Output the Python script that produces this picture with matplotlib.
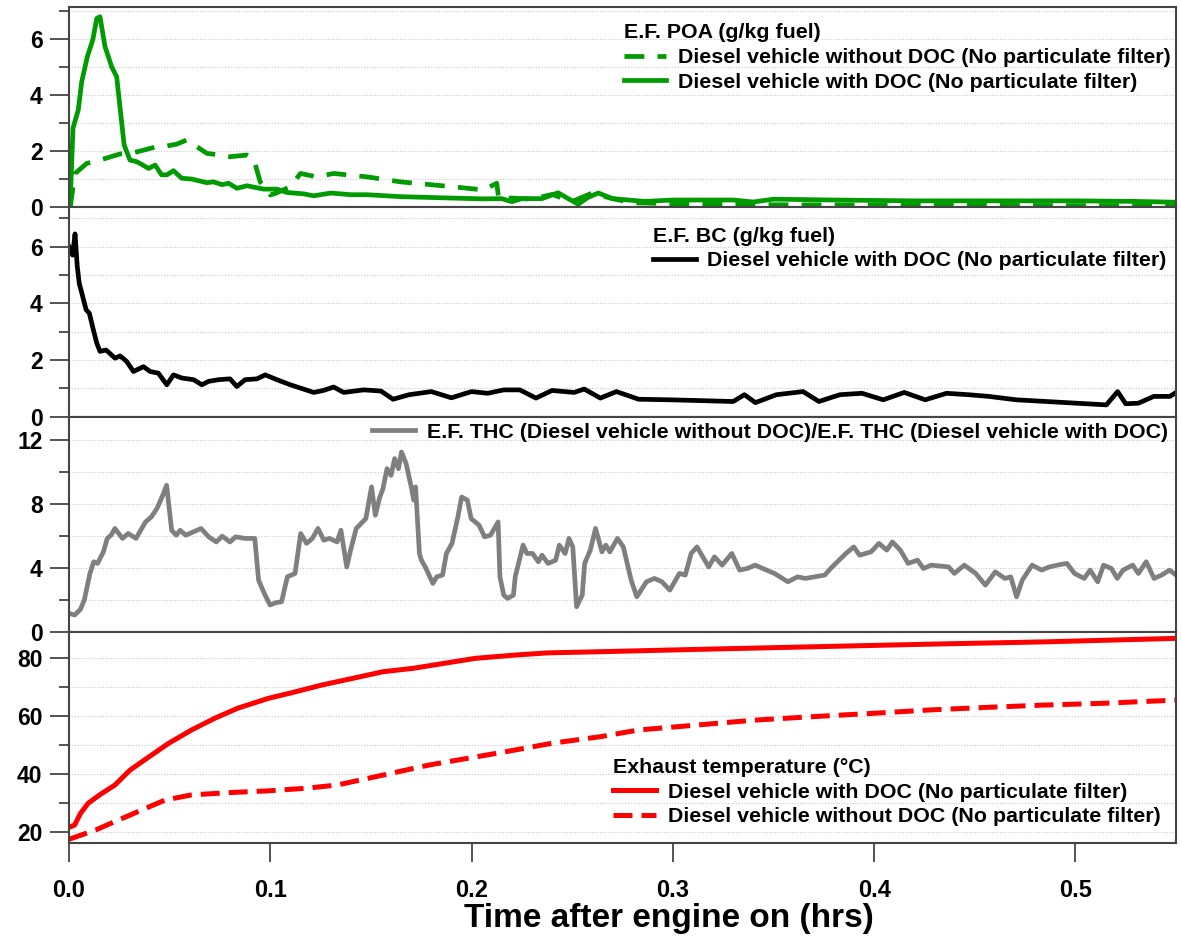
import numpy as np
import matplotlib
matplotlib.use("Agg")
import matplotlib.pyplot as plt
from matplotlib.ticker import MultipleLocator

plt.rcParams['font.family'] = ['Liberation Sans', 'DejaVu Sans']
plt.rcParams['font.weight'] = 'bold'

# --- data (time in hours) ---
poa_doc_t = [0.0005, 0.002, 0.0046, 0.0063, 0.0091, 0.0118, 0.0138, 0.0154, 0.0179, 0.0212,
             0.0237, 0.0274, 0.0303, 0.0337, 0.036, 0.0395, 0.0428, 0.046, 0.0486, 0.0519,
             0.056, 0.061, 0.0685, 0.0718, 0.076, 0.0793, 0.0834, 0.0884, 0.0967, 0.1033,
             0.1083, 0.1166, 0.1216, 0.13, 0.14, 0.148, 0.165, 0.185, 0.206, 0.215,
             0.22, 0.225, 0.235, 0.243, 0.248, 0.253, 0.258, 0.263, 0.27, 0.286,
             0.30, 0.33, 0.34, 0.35, 0.38, 0.42, 0.46, 0.50, 0.53, 0.55]
poa_doc = [0, 2.83, 3.47, 4.48, 5.38, 5.98, 6.75, 6.81, 5.74, 5.02,
           4.66, 2.22, 1.68, 1.62, 1.53, 1.38, 1.5, 1.15, 1.15, 1.3,
           1.03, 1.0, 0.87, 0.9, 0.8, 0.85, 0.67, 0.76, 0.64, 0.64,
           0.52, 0.47, 0.40, 0.5, 0.44, 0.44, 0.37, 0.33, 0.29, 0.3,
           0.19, 0.3, 0.3, 0.51, 0.3, 0.1, 0.35, 0.5, 0.3, 0.2,
           0.25, 0.25, 0.18, 0.28, 0.25, 0.22, 0.22, 0.22, 0.2, 0.17]

poa_nodoc_t = [0.0006, 0.003, 0.0088, 0.0154, 0.0254, 0.032, 0.0436, 0.0469, 0.0535, 0.0585,
               0.0635, 0.0685, 0.075, 0.080, 0.0884, 0.0917, 0.095, 0.100, 0.103, 0.110,
               0.115, 0.123, 0.128, 0.1315, 0.148, 0.1647, 0.19, 0.206, 0.2125, 0.2135,
               0.22, 0.23, 0.24, 0.25, 0.26, 0.27, 0.28, 0.30, 0.32, 0.35,
               0.40, 0.45, 0.50, 0.55]
poa_nodoc = [0, 1.2, 1.56, 1.68, 1.9, 1.94, 2.16, 2.16, 2.25, 2.4,
             2.16, 1.92, 1.86, 1.8, 1.86, 1.74, 0.9, 0.43, 0.5, 0.73,
             1.2, 1.08, 1.15, 1.2, 1.08, 0.9, 0.73, 0.61, 0.85, 0.3,
             0.32, 0.28, 0.45, 0.2, 0.5, 0.3, 0.15, 0.12, 0.1, 0.08,
             0.07, 0.06, 0.05, 0.05]

bc_t = [0.0, 0.0018, 0.003, 0.0041, 0.0051, 0.0068, 0.0085, 0.0101, 0.0121, 0.0138,
        0.0154, 0.0184, 0.0229, 0.0254, 0.0287, 0.032, 0.037, 0.0403, 0.0444, 0.0486,
        0.0519, 0.056, 0.0619, 0.066, 0.0693, 0.0743, 0.080, 0.0834, 0.0875, 0.0934,
        0.0975, 0.1033, 0.11, 0.1216, 0.1264, 0.1315, 0.1365, 0.1464, 0.155, 0.161,
        0.169, 0.18, 0.19, 0.2, 0.208, 0.216, 0.224, 0.232, 0.24, 0.251,
        0.256, 0.264, 0.272, 0.283, 0.2985, 0.33, 0.3356, 0.341, 0.3515, 0.3647,
        0.3726, 0.383, 0.394, 0.4045, 0.415, 0.4254, 0.436, 0.4468, 0.457, 0.4706,
        0.5154, 0.521, 0.525, 0.5313, 0.539, 0.547, 0.55]
bc = [6.0, 5.7, 6.45, 5.3, 4.7, 4.24, 3.77, 3.65, 3.06, 2.59,
      2.3, 2.35, 2.06, 2.14, 1.94, 1.59, 1.76, 1.59, 1.53, 1.12,
      1.47, 1.36, 1.3, 1.12, 1.24, 1.3, 1.33, 1.06, 1.3, 1.33,
      1.47, 1.3, 1.12, 0.85, 0.92, 1.04, 0.85, 0.94, 0.9, 0.61,
      0.77, 0.88, 0.66, 0.88, 0.82, 0.94, 0.94, 0.65, 0.92, 0.85,
      0.97, 0.65, 0.88, 0.61, 0.59, 0.53, 0.77, 0.49, 0.77, 0.88,
      0.53, 0.77, 0.82, 0.59, 0.85, 0.59, 0.82, 0.77, 0.71, 0.59,
      0.41, 0.88, 0.45, 0.47, 0.71, 0.71, 0.85]

thc_t = [0.0, 0.0028, 0.0057, 0.0076, 0.0104, 0.0123, 0.0142, 0.0171, 0.019, 0.0209,
         0.0228, 0.0266, 0.0294, 0.0333, 0.0361, 0.038, 0.0409, 0.0437, 0.0466, 0.0485,
         0.051, 0.0533, 0.0552, 0.058, 0.0656, 0.0694, 0.0732, 0.0761, 0.08, 0.0828,
         0.0875, 0.0923, 0.0942, 0.097, 0.0999, 0.1027, 0.1056, 0.1085, 0.1123, 0.1151,
         0.118, 0.1209, 0.1237, 0.1266, 0.1294, 0.1332, 0.1351, 0.138, 0.1399, 0.1427,
         0.1475, 0.1503, 0.1522, 0.1542, 0.156, 0.158, 0.16, 0.1618, 0.1637, 0.1652,
         0.1675, 0.1704, 0.1713, 0.1722, 0.1741, 0.1751, 0.177, 0.1808, 0.1827, 0.1856,
         0.1875, 0.1903, 0.1932, 0.1951, 0.1979, 0.1998, 0.2037, 0.2065, 0.2094, 0.2132,
         0.2141, 0.216, 0.2179, 0.2208, 0.2217, 0.2256, 0.2275, 0.2303, 0.2332, 0.235,
         0.238, 0.2418, 0.2436, 0.2465, 0.2484, 0.2503, 0.2522, 0.255, 0.2562, 0.259,
         0.2616, 0.2648, 0.2667, 0.2687, 0.2725, 0.2754, 0.2793, 0.2821, 0.2869, 0.2908,
         0.2946, 0.2985, 0.3033, 0.3062, 0.3091, 0.312, 0.3149, 0.3178, 0.3207, 0.3245,
         0.3293, 0.3332, 0.337, 0.3409, 0.3466, 0.3505, 0.3572, 0.362, 0.3659, 0.3755,
         0.3784, 0.386, 0.3899, 0.3928, 0.3985, 0.4024, 0.4063, 0.4091, 0.413, 0.4169,
         0.4216, 0.4245, 0.4284, 0.437, 0.4399, 0.4448, 0.4505, 0.4553, 0.4602, 0.465,
         0.4679, 0.4708, 0.4736, 0.4785, 0.4832, 0.4871, 0.491, 0.4958, 0.4996, 0.5044,
         0.5073, 0.5111, 0.514, 0.5179, 0.5208, 0.5237, 0.5285, 0.5313, 0.5352, 0.5391,
         0.5429, 0.5468, 0.55]
thc_ratio = [1.15, 1.04, 1.4, 1.98, 3.64, 4.37, 4.27, 4.99, 5.83, 6.03,
             6.45, 5.83, 6.14, 5.83, 6.45, 6.86, 7.17, 7.7, 8.53, 9.15,
             6.34, 6.03, 6.34, 6.03, 6.45, 5.93, 5.61, 5.97, 5.61, 5.93,
             5.83, 5.83, 3.22, 2.4, 1.67, 1.81, 1.87, 3.43, 3.64, 6.14,
             5.52, 5.83, 6.45, 5.72, 5.83, 5.61, 6.34, 4.05, 5.1, 6.45,
             7.07, 9.05, 7.28, 8.32, 8.95, 10.19, 9.77, 10.82, 10.19, 11.23,
             10.5, 8.84, 8.22, 9.05, 4.89, 4.47, 4.05, 3.02, 3.43, 3.54,
             4.89, 5.52, 7.17, 8.42, 8.22, 7.07, 6.66, 5.93, 6.03, 6.86,
             3.43, 2.29, 2.08, 2.29, 3.43, 5.41, 4.89, 4.89, 4.37, 4.78,
             4.27, 4.47, 5.41, 4.89, 5.83, 5.3, 1.56, 2.29, 4.27, 5.1,
             6.45, 4.99, 5.41, 4.99, 5.83, 5.3, 3.22, 2.18, 3.12, 3.33,
             3.12, 2.6, 3.64, 3.54, 4.89, 5.3, 4.68, 4.05, 4.68, 4.16,
             4.89, 3.85, 3.95, 4.16, 3.85, 3.64, 3.12, 3.43, 3.33, 3.54,
             3.95, 4.89, 5.3, 4.78, 4.99, 5.52, 5.1, 5.61, 5.1, 4.27,
             4.47, 3.95, 4.16, 4.05, 3.64, 4.16, 3.64, 2.91, 3.74, 3.33,
             3.43, 2.18, 3.22, 4.16, 3.85, 4.05, 4.16, 4.27, 3.64, 3.33,
             3.85, 3.12, 4.16, 3.95, 3.33, 3.85, 4.16, 3.64, 4.37, 3.33,
             3.54, 3.85, 3.54]

temp_doc_t = [0.0, 0.0028, 0.0057, 0.0095, 0.0152, 0.0228, 0.0304, 0.0399, 0.0495, 0.0609,
              0.0723, 0.0838, 0.099, 0.1104, 0.1256, 0.1409, 0.1561, 0.1713, 0.1865, 0.2018,
              0.2208, 0.238, 0.2642, 0.312, 0.3697, 0.4274, 0.485, 0.55]
temp_doc = [21.7, 22.5, 26.5, 30.0, 32.9, 36.3, 41.5, 46.1, 50.7, 55.3,
            59.3, 62.8, 66.2, 68.1, 70.8, 73.1, 75.4, 76.6, 78.3, 80.0,
            81.1, 81.9, 82.3, 83.1, 84.0, 84.9, 85.7, 86.9]

temp_nodoc_t = [0.0, 0.0038, 0.0133, 0.0228, 0.0342, 0.0476, 0.0609, 0.08, 0.099, 0.118,
                0.1332, 0.1485, 0.1637, 0.1789, 0.1979, 0.217, 0.2398, 0.2642, 0.2831, 0.312,
                0.3408, 0.3697, 0.3985, 0.4274, 0.4562, 0.485, 0.5139, 0.55]
temp_nodoc = [17.6, 18.5, 20.8, 23.7, 27.1, 31.1, 32.9, 33.7, 34.3, 35.2,
              36.3, 38.6, 40.9, 43.2, 45.5, 47.8, 50.7, 53.0, 55.3, 57.0,
              58.7, 59.9, 61.0, 62.2, 63.1, 63.9, 64.5, 65.6]

GREEN = '#009B00'
GRAY = '#7F7F7F'
RED = '#FF0000'
AXCOL = '#454545'


def style_axis(ax, ylim, major, minor, show_x=False):
    '''Shared look of one panel: box, ticks, dotted grid.'''
    ax.set_xlim(0, 0.55)
    ax.set_ylim(*ylim)
    ax.yaxis.set_major_locator(MultipleLocator(major))
    ax.yaxis.set_minor_locator(MultipleLocator(minor))
    ax.xaxis.set_major_locator(MultipleLocator(0.1))
    ax.grid(axis='y', which='both', linestyle=(0, (1, 1.5)), color='#C8C8C8', linewidth=0.8)
    ax.set_axisbelow(True)
    for s in ax.spines.values():
        s.set_color(AXCOL)
        s.set_linewidth(1.5)
    ax.tick_params(axis='y', which='major', direction='out', length=14, width=1.3,
                   color=AXCOL, labelsize=16.5, pad=5)
    ax.tick_params(axis='y', which='minor', direction='out', length=7, width=1.3, color=AXCOL)
    if show_x:
        ax.tick_params(axis='x', which='major', direction='out', length=14, width=1.3,
                       color=AXCOL, labelsize=17, pad=12)
    else:
        ax.tick_params(axis='x', bottom=False, labelbottom=False)
    for lab in ax.get_yticklabels() + ax.get_xticklabels():
        lab.set_fontweight('bold')


def add_legend(ax, anchor, title=None):
    leg = ax.legend(loc='upper left', bbox_to_anchor=anchor, frameon=False, fontsize=15.4,
                    title=title, title_fontsize=15.4, alignment='left', handlelength=2.0,
                    handletextpad=0.55, labelspacing=0.27, borderpad=0, borderaxespad=0)
    for txt in leg.get_texts():
        txt.set_fontweight('bold')
    if title:
        leg.get_title().set_fontweight('bold')
    return leg


#Main Function
fig = plt.figure(figsize=(11.82, 9.36), dpi=100)
edges = [6.7, 207, 416.5, 631.7, 843.3]
left, right = 69 / 1182, 1176 / 1182
axes = []
for i in range(4):
    top, bot = edges[i], edges[i + 1]
    axes.append(fig.add_axes([left, 1 - bot / 936, right - left, (bot - top) / 936]))
ax1, ax2, ax3, ax4 = axes

ax1.plot(poa_nodoc_t, poa_nodoc, color=GREEN, lw=3.4, dashes=(4.2, 2.8),
         label='Diesel vehicle without DOC (No particulate filter)')
ax1.plot(poa_doc_t, poa_doc, color=GREEN, lw=3.4,
         label='Diesel vehicle with DOC (No particulate filter)')
style_axis(ax1, (0, 7.17), 2, 1)
add_legend(ax1, (0.501, 0.917), 'E.F. POA (g/kg fuel)')

ax2.plot(bc_t, bc, color='black', lw=3.4,
         label='Diesel vehicle with DOC (No particulate filter)')
style_axis(ax2, (0, 7.4), 2, 1)
add_legend(ax2, (0.5275, 0.906), 'E.F. BC (g/kg fuel)')

ax3.plot(thc_t, thc_ratio, color=GRAY, lw=3.4,
         label='E.F. THC (Diesel vehicle without DOC)/E.F. THC (Diesel vehicle with DOC)')
style_axis(ax3, (0, 13.45), 4, 2)
add_legend(ax3, (0.2737, 0.971))

ax4.plot(temp_doc_t, temp_doc, color=RED, lw=3.6,
         label='Diesel vehicle with DOC (No particulate filter)')
ax4.plot(temp_nodoc_t, temp_nodoc, color=RED, lw=3.6, dashes=(3.8, 1.8),
         label='Diesel vehicle without DOC (No particulate filter)')
style_axis(ax4, (16.2, 89.2), 20, 10, show_x=True)
ax4.xaxis.set_major_formatter(plt.FormatStrFormatter('%.1f'))
for lab in ax4.get_xticklabels():
    lab.set_fontweight('bold')
add_legend(ax4, (0.4914, 0.404), 'Exhaust temperature (°C)')

fig.text(669 / 1182, 1 - 918 / 936, 'Time after engine on (hrs)', ha='center', va='center',
         fontsize=24, fontweight='bold')

fig.savefig('out.png', dpi=100)
